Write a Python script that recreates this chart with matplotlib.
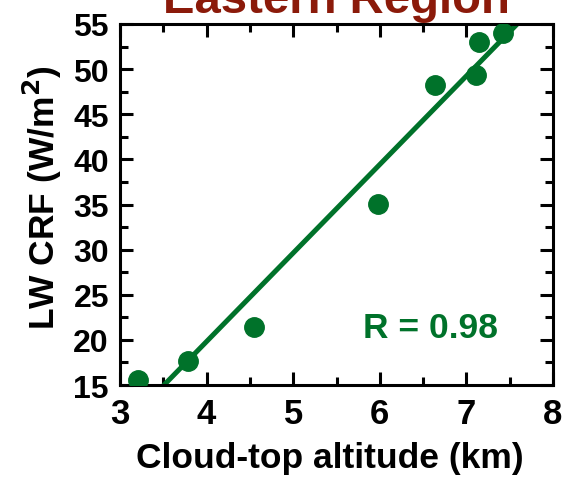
import numpy as np
import matplotlib
matplotlib.use('Agg')
import matplotlib.pyplot as plt
from matplotlib.ticker import MultipleLocator

# valeurs
altitude = [3.21, 3.79, 4.55, 5.98, 6.64, 7.11, 7.15, 7.42]
lw_crf = [15.6, 17.7, 21.4, 35.1, 48.2, 49.4, 53.0, 54.0]
titre = "Eastern Region"
texte_r = "R = 0.98"

vert = '#00722a'
rouge = '#8b1a0a'

plt.rcParams['font.family'] = ['Liberation Sans', 'DejaVu Sans']
plt.rcParams['font.weight'] = 'bold'

fig = plt.figure(figsize=(5.7, 4.81), dpi=100)
ax = fig.add_axes([120 / 570, 1 - 386 / 481, 433 / 570, 361 / 481])

ax.plot(altitude, lw_crf, 'o', color=vert, markersize=14, zorder=3)

# droite de régression
pente, origine = np.polyfit(altitude, lw_crf, 1)
xs = np.array([3, 8])
ax.plot(xs, pente * xs + origine, color=vert, linewidth=3.6, zorder=2)

ax.set_xlim(3, 8)
ax.set_ylim(15, 55)
ax.xaxis.set_major_locator(MultipleLocator(1))
ax.xaxis.set_minor_locator(MultipleLocator(0.5))
ax.yaxis.set_major_locator(MultipleLocator(5))
ax.yaxis.set_minor_locator(MultipleLocator(2.5))
ax.tick_params(which='both', direction='in', top=True, right=True, width=2.2)
ax.tick_params(which='major', length=9.5)
ax.tick_params(which='minor', length=6)
ax.tick_params(axis='x', labelsize=25, pad=9)
ax.tick_params(axis='y', labelsize=23, pad=8)
for s in ax.spines.values():
    s.set_linewidth(2.2)

ax.set_xlabel('Cloud-top altitude (km)', fontsize=25.5, fontweight='bold', va='top')
ax.xaxis.set_label_coords(0.485, -0.155)
ax.set_ylabel('LW CRF (W/m$^\\mathbf{2}$)', fontsize=25.5, fontweight='bold', va='center')
ax.yaxis.set_label_coords(-0.18, 0.52)

ax.text(0.5, 1 + 12 / 361, titre, transform=ax.transAxes, ha='center', va='baseline',
        fontsize=34, fontweight='bold', color=rouge)
ax.text(6.58, 21.4, texte_r, ha='center', va='center', fontsize=25.5,
        fontweight='bold', color=vert)

fig.savefig('out.png', dpi=100)
